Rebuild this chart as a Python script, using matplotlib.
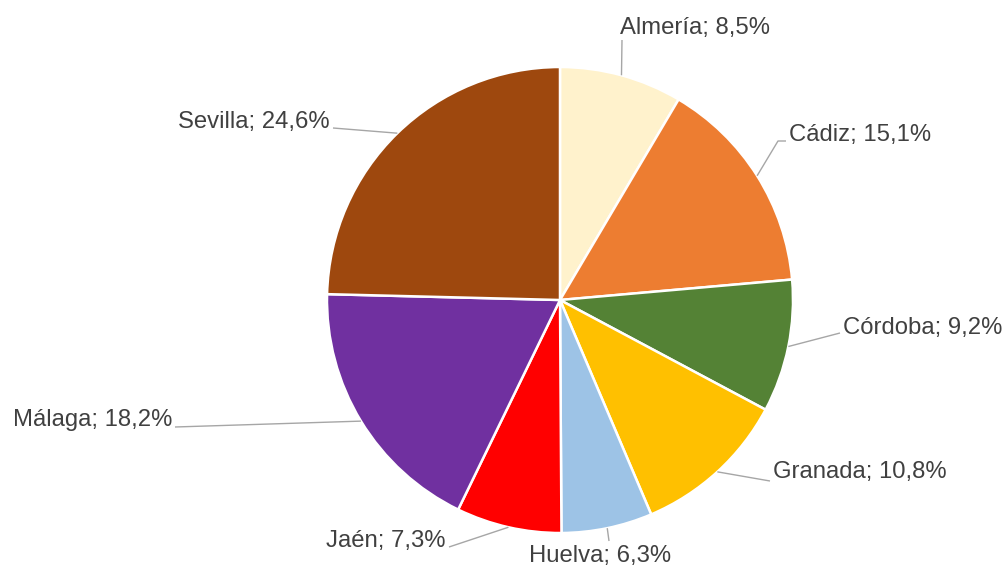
import numpy as np
import matplotlib
matplotlib.use("Agg")
import matplotlib.pyplot as plt

# ---- data ----
provinces = ["Almería", "Cádiz", "Córdoba", "Granada", "Huelva", "Jaén", "Málaga", "Sevilla"]
shares = [8.5, 15.1, 9.2, 10.8, 6.3, 7.3, 18.2, 24.6]
colors = ["#FFF2CC", "#ED7D31", "#548235", "#FFC000", "#9DC3E6", "#FF0000", "#7030A0", "#9E480E"]

# ---- layout (pixel space, y from top) ----
W, H = 1008, 569
center_px = (560, 300)
radius_px = 233
label_pos = [(695, 28), (789, 135), (843, 328), (773, 472), (600, 556), (445, 541), (172, 420), (330, 122)]
label_ha = ["center", "left", "left", "left", "center", "right", "right", "right"]
leader_pts = [
    [(622, 40)],
    [(778, 141), (786, 141)],
    [(840, 333)],
    [(770, 481)],
    [(609, 541)],
    [(449, 547)],
    [(175, 427)],
    [(333, 128)],
]

plt.rcParams['font.family'] = ['Liberation Sans', 'DejaVu Sans']

fig = plt.figure(figsize=(W / 100, H / 100), dpi=100)
ax = fig.add_axes([0, 0, 1, 1])

def fy(py):
    return H - py

cx, cy = center_px[0], fy(center_px[1])
wedges, _ = ax.pie(shares, colors=colors, startangle=90, counterclock=False,
                   center=(cx, cy), radius=radius_px,
                   wedgeprops=dict(edgecolor="white", linewidth=1.8))
ax.set_xlim(0, W)
ax.set_ylim(0, H)
ax.set_aspect('equal')
ax.axis('off')

line_col = "#A6A6A6"
text_col = "#404040"
for w, name, val, pos, ha, pts in zip(wedges, provinces, shares, label_pos, label_ha, leader_pts):
    ang = np.deg2rad((w.theta1 + w.theta2) / 2)
    sx = cx + radius_px * np.cos(ang)
    sy = cy + radius_px * np.sin(ang)
    xs = [sx] + [p[0] for p in pts]
    ys = [sy] + [fy(p[1]) for p in pts]
    ax.plot(xs, ys, color=line_col, lw=1.0, solid_capstyle='butt')
    txt = f"{name}; {val:.1f}%".replace(".", ",")
    ax.text(pos[0], fy(pos[1]), txt, ha=ha, va="center", fontsize=17.2, color=text_col)

fig.savefig("out.png", dpi=100)
